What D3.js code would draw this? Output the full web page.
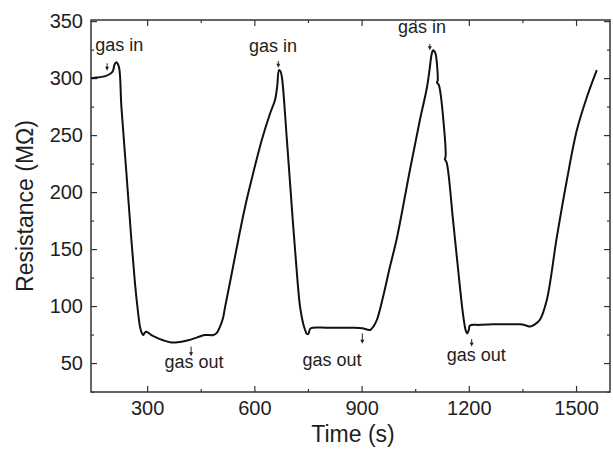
<!DOCTYPE html>
<html>
<head>
<meta charset="utf-8">
<script src="https://cdn.jsdelivr.net/npm/d3@7"></script>
<style>
    body { margin: 0; background: #fff; }
    text { font-family: "Liberation Sans", Arial, sans-serif; fill: #1e1e1e; }
</style>
</head>
<body>
<div id="chart"></div>
<script>
// time (s) and resistance (MOhm)
const times = [143, 160, 185, 198, 204, 209, 214, 221, 228, 242, 256, 266, 273, 280, 285, 289, 293, 298,
    310, 322, 345, 368, 392, 415, 440, 461, 485, 495, 504, 512, 518, 537, 555, 574, 597, 621, 644, 658,
    664, 669, 673, 677, 691, 708, 720, 728, 737, 742, 747, 751, 756, 764, 800, 840, 880, 902, 915,
    924, 933, 943, 960, 979, 999, 1035, 1063, 1083, 1090, 1096, 1100, 1105, 1108, 1113, 1111, 1116,
    1130, 1135, 1133, 1138, 1156, 1175, 1185, 1192, 1196, 1200, 1203, 1230, 1267, 1305, 1343,
    1360, 1371, 1385, 1399, 1418, 1446, 1474, 1502, 1530, 1558];
const resistance = [300, 300.5, 302, 304, 306, 312, 314, 310, 275, 217, 158, 120, 99, 82, 76.5, 74.6, 76.5, 77.5,
    75, 73, 70, 68, 68.5, 70, 72.5, 74.6, 74.6, 76.5, 82, 89, 99, 129, 158, 187, 217, 246, 269, 281,
    293, 307, 306, 301, 246, 173, 125, 99, 84, 79, 75.5, 75.5, 80, 81, 81, 81, 81, 80.5, 79.5,
    79, 82, 88, 108, 134, 160, 219, 263, 292, 307, 321, 324.5, 323, 320, 298, 296, 294,
    259, 231, 229, 226, 175, 117, 90, 78, 76, 79, 83, 83.5, 84, 84, 84,
    83, 82, 84, 88, 105, 160, 210, 254, 283, 307];

const xTicks = [300, 600, 900, 1200, 1500];
const xMinor = [450, 750, 1050, 1350];
const yTicks = [50, 100, 150, 200, 250, 300, 350];
const yMinor = [25, 75, 125, 175, 225, 275, 325];

// arrow x, arrow start/tip in resistance, label centre x and baseline
const notes = [
    { text: "gas in", t: 188, from: 313, to: 306.5, lt: 222, lr: 323.5 },
    { text: "gas in", t: 667, from: 315, to: 309, lt: 652, lr: 322.5 },
    { text: "gas in", t: 1091, from: 330, to: 324.5, lt: 1069, lr: 340 },
    { text: "gas out", t: 423, from: 64.5, to: 56, lt: 431, lr: 46 },
    { text: "gas out", t: 902, from: 76, to: 67, lt: 817, lr: 47.5 },
    { text: "gas out", t: 1208, from: 71, to: 64.5, lt: 1221, lr: 51.5 }
];

const width = 613, height = 449;
const margin = { top: 20, right: 3, bottom: 57, left: 91 };
const w = width - margin.left - margin.right;
const h = height - margin.top - margin.bottom;

const svg = d3.select("#chart").append("svg")
    .attr("width", width)
    .attr("height", height);

const g = svg.append("g")
    .attr("transform", `translate(${margin.left},${margin.top})`);

const x = d3.scaleLinear().domain([143, 1595]).range([0, w]);
const y = d3.scaleLinear().domain([24.6, 351]).range([h, 0]);

function styleAxis(sel) {
    sel.select(".domain").remove();
    sel.selectAll(".tick line").attr("stroke", "#333").attr("stroke-width", 1.2);
    sel.selectAll(".tick text").attr("fill", "#1e1e1e").style("font-size", "20px");
}

// major ticks, pointing inwards
g.append("g")
    .attr("transform", `translate(0,${h})`)
    .call(d3.axisBottom(x).tickValues(xTicks).tickSize(-6).tickPadding(9).tickFormat(d3.format("d")))
    .call(styleAxis);
g.append("g")
    .call(d3.axisTop(x).tickValues(xTicks).tickSize(-6).tickFormat(""))
    .call(styleAxis);
g.append("g")
    .call(d3.axisLeft(y).tickValues(yTicks).tickSize(-6).tickPadding(8).tickFormat(d3.format("d")))
    .call(styleAxis);
g.append("g")
    .attr("transform", `translate(${w},0)`)
    .call(d3.axisRight(y).tickValues(yTicks).tickSize(-6).tickFormat(""))
    .call(styleAxis);

// minor ticks
g.append("g")
    .attr("transform", `translate(0,${h})`)
    .call(d3.axisBottom(x).tickValues(xMinor).tickSize(-3).tickFormat(""))
    .call(styleAxis);
g.append("g")
    .call(d3.axisTop(x).tickValues(xMinor).tickSize(-3).tickFormat(""))
    .call(styleAxis);
g.append("g")
    .call(d3.axisLeft(y).tickValues(yMinor).tickSize(-3).tickFormat(""))
    .call(styleAxis);
g.append("g")
    .attr("transform", `translate(${w},0)`)
    .call(d3.axisRight(y).tickValues(yMinor).tickSize(-3).tickFormat(""))
    .call(styleAxis);

g.append("rect")
    .attr("width", w)
    .attr("height", h)
    .attr("fill", "none")
    .attr("stroke", "#333")
    .attr("stroke-width", 1.5);

const points = times.map((t, i) => [t, resistance[i]]);

const line = d3.line()
    .x(d => x(d[0]))
    .y(d => y(d[1]))
    .curve(d3.curveCatmullRom.alpha(0.5));

g.append("path")
    .datum(points)
    .attr("fill", "none")
    .attr("stroke", "#111")
    .attr("stroke-width", 2)
    .attr("stroke-linejoin", "round")
    .attr("d", line);

// annotations
const ann = g.selectAll(".note")
    .data(notes)
    .enter()
    .append("g")
    .attr("class", "note");

ann.append("line")
    .attr("x1", d => x(d.t))
    .attr("x2", d => x(d.t))
    .attr("y1", d => y(d.from))
    .attr("y2", d => y(d.to) - 3)
    .attr("stroke", "#222")
    .attr("stroke-width", 1);

ann.append("path")
    .attr("d", d => {
        const px = x(d.t), py = y(d.to);
        return `M${px - 2},${py - 4}L${px + 2},${py - 4}L${px},${py}Z`;
    })
    .attr("fill", "#222");

ann.append("text")
    .attr("x", d => x(d.lt))
    .attr("y", d => y(d.lr))
    .attr("text-anchor", "middle")
    .style("font-size", "18px")
    .text(d => d.text);

svg.append("text")
    .attr("x", 353)
    .attr("y", 442)
    .attr("text-anchor", "middle")
    .style("font-size", "23px")
    .text("Time (s)");

svg.append("text")
    .attr("transform", "translate(33,206) rotate(-90)")
    .attr("text-anchor", "middle")
    .style("font-size", "23px")
    .text("Resistance (MΩ)");
</script>
</body>
</html>
